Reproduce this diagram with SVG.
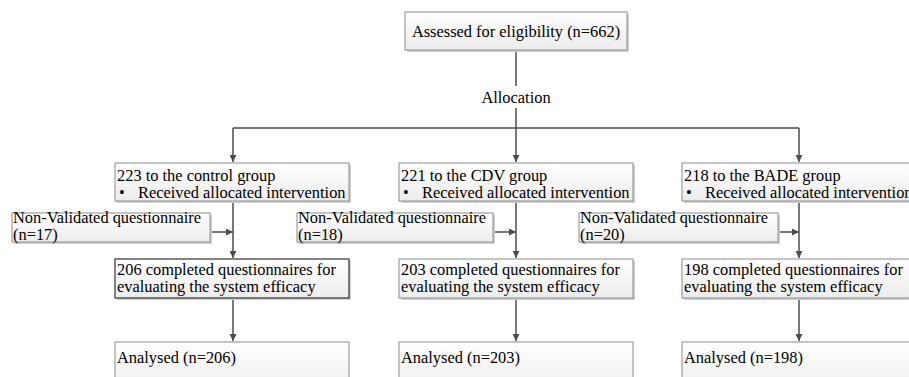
<svg xmlns="http://www.w3.org/2000/svg" width="909" height="377" viewBox="0 0 909 377">
<defs>
<linearGradient id="g" x1="0" y1="0" x2="0" y2="1">
<stop offset="0" stop-color="#ffffff"/>
<stop offset="1" stop-color="#ececec"/>
</linearGradient>
<marker id="ah" viewBox="0 0 10 10" refX="10" refY="5" markerWidth="7" markerHeight="7" markerUnits="userSpaceOnUse" orient="auto">
<path d="M0,0 L10,5 L0,10 z" fill="#4d4d4d"/>
</marker>
</defs>
<style>
.b{fill:url(#g);stroke:#8c8c8c;stroke-width:1}
.bk{fill:url(#g);stroke:#333333;stroke-width:1.2}
.s{fill:#d0d0d0;stroke:none}
.t{font-family:'Liberation Serif','Times New Roman',serif;font-size:16.4px;fill:#000}
.c{fill:none;stroke:#4d4d4d;stroke-width:1.5}
</style>
<rect width="909" height="377" fill="#ffffff"/>
<g id="connectors">
<path class="c" d="M516,50 V86"/>
<path class="c" d="M516,108 V128"/>
<path class="c" d="M233,128 H799"/>
<path class="c" d="M233,128 V162" marker-end="url(#ah)"/>
<path class="c" d="M516,128 V162" marker-end="url(#ah)"/>
<path class="c" d="M799,128 V162" marker-end="url(#ah)"/>
<path class="c" d="M233,201 V258" marker-end="url(#ah)"/>
<path class="c" d="M516,201 V258" marker-end="url(#ah)"/>
<path class="c" d="M799,201 V258" marker-end="url(#ah)"/>
<path class="c" d="M210,232 H233" marker-end="url(#ah)"/>
<path class="c" d="M493,232 H516" marker-end="url(#ah)"/>
<path class="c" d="M778,232 H799" marker-end="url(#ah)"/>
<path class="c" d="M233,298 V341" marker-end="url(#ah)"/>
<path class="c" d="M516,298 V341" marker-end="url(#ah)"/>
<path class="c" d="M799,298 V341" marker-end="url(#ah)"/>
<text class="t" x="516" y="103" text-anchor="middle">Allocation</text>
</g>
<g id="assessed">
<rect class="s" x="407" y="14" width="222" height="38"/>
<rect class="b" x="405" y="12" width="222" height="38"/>
<text class="t" x="516" y="37" text-anchor="middle">Assessed for eligibility (n=662)</text>
</g>
<g id="control">
<rect class="s" x="117" y="165" width="234" height="38"/>
<rect class="b" x="115" y="163" width="234" height="38"/>
<text class="t" x="117" y="181">223 to the control group</text>
<text class="t" x="119" y="198">•</text>
<text class="t" x="138" y="198">Received allocated intervention</text>
</g>
<g id="cdv">
<rect class="s" x="401" y="165" width="234" height="38"/>
<rect class="b" x="399" y="163" width="234" height="38"/>
<text class="t" x="401" y="181">221 to the CDV group</text>
<text class="t" x="403" y="198">•</text>
<text class="t" x="422" y="198">Received allocated intervention</text>
</g>
<g id="bade">
<rect class="s" x="684" y="165" width="234" height="38"/>
<rect class="b" x="682" y="163" width="234" height="38"/>
<text class="t" x="684" y="181">218 to the BADE group</text>
<text class="t" x="686" y="198">•</text>
<text class="t" x="705" y="198">Received allocated intervention</text>
</g>
<g id="nv1">
<rect class="s" x="14" y="215" width="198" height="29"/>
<rect class="b" x="12" y="213" width="198" height="29"/>
<text class="t" x="13" y="223">Non-Validated questionnaire</text>
<text class="t" x="13" y="240">(n=17)</text>
</g>
<g id="nv2">
<rect class="s" x="299" y="215" width="196" height="29"/>
<rect class="b" x="297" y="213" width="196" height="29"/>
<text class="t" x="298" y="223">Non-Validated questionnaire</text>
<text class="t" x="298" y="240">(n=18)</text>
</g>
<g id="nv3">
<rect class="s" x="581" y="215" width="199" height="29"/>
<rect class="b" x="579" y="213" width="199" height="29"/>
<text class="t" x="580" y="223">Non-Validated questionnaire</text>
<text class="t" x="580" y="240">(n=20)</text>
</g>
<g id="completed1">
<rect class="s" x="117" y="261" width="234" height="39"/>
<rect class="bk" x="115" y="259" width="234" height="39"/>
<text class="t" x="117" y="275">206 completed questionnaires for</text>
<text class="t" x="117" y="292">evaluating the system efficacy</text>
</g>
<g id="completed2">
<rect class="s" x="401" y="261" width="234" height="39"/>
<rect class="b" x="399" y="259" width="234" height="39"/>
<text class="t" x="401" y="275">203 completed questionnaires for</text>
<text class="t" x="401" y="292">evaluating the system efficacy</text>
</g>
<g id="completed3">
<rect class="s" x="684" y="261" width="234" height="39"/>
<rect class="b" x="682" y="259" width="234" height="39"/>
<text class="t" x="684" y="275">198 completed questionnaires for</text>
<text class="t" x="684" y="292">evaluating the system efficacy</text>
</g>
<g id="analysed1">
<rect class="b" x="115" y="342" width="234" height="50"/>
<text class="t" x="117" y="363">Analysed (n=206)</text>
</g>
<g id="analysed2">
<rect class="b" x="399" y="342" width="234" height="50"/>
<text class="t" x="401" y="363">Analysed (n=203)</text>
</g>
<g id="analysed3">
<rect class="b" x="682" y="342" width="234" height="50"/>
<text class="t" x="684" y="363">Analysed (n=198)</text>
</g>
</svg>
